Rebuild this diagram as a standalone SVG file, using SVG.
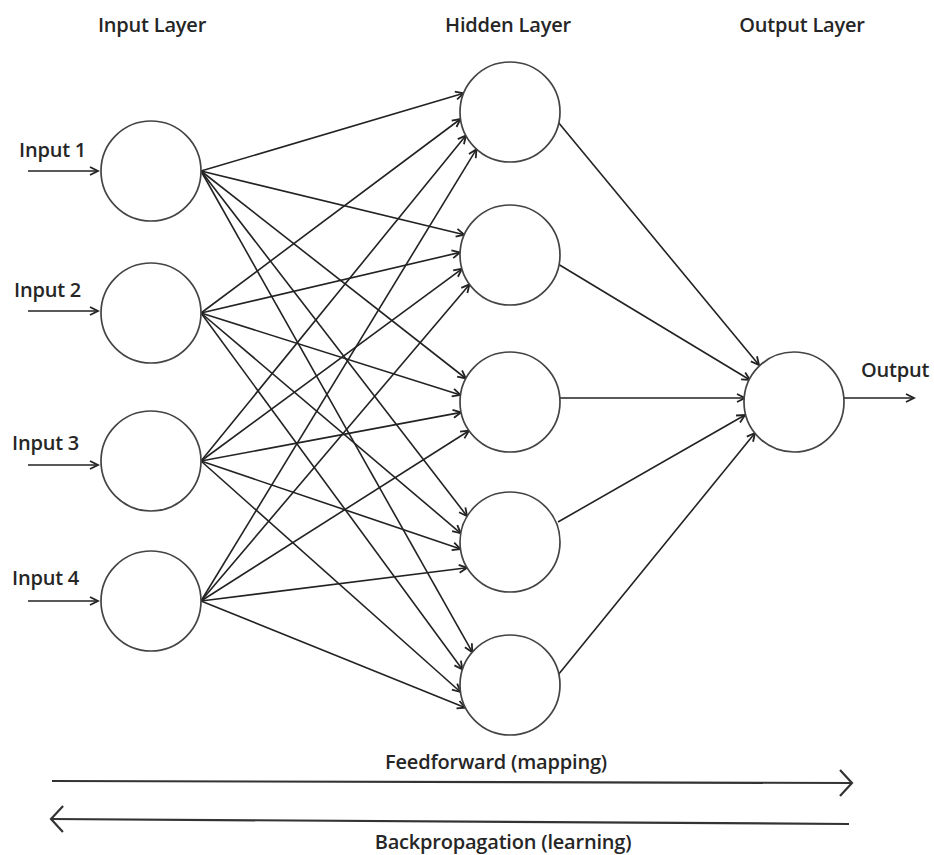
<svg xmlns="http://www.w3.org/2000/svg" width="934" height="855" viewBox="0 0 934 855">
<defs>
<style>
.node{fill:#fff;stroke:#444;stroke-width:1.7}
.edge{stroke:#222;stroke-width:1.6;fill:none;marker-end:url(#ah)}
.big{stroke:#333;stroke-width:2.2;fill:none}
text{font-family:"Open Sans","Noto Sans",sans-serif;font-size:20px;font-weight:600;letter-spacing:-0.2px;fill:#262626}
.mid{text-anchor:middle}
</style>
<marker id="ah" markerUnits="userSpaceOnUse" markerWidth="12" markerHeight="12" viewBox="-10 -6 12 12" refX="0" refY="0" orient="auto">
<path d="M-8,-4 L0,0 L-8,4" fill="none" stroke="#222" stroke-width="1.8"/>
</marker>
<marker id="bh" markerUnits="userSpaceOnUse" markerWidth="20" markerHeight="32" viewBox="-16 -16 20 32" refX="0" refY="0" orient="auto">
<path d="M-12,-13 L0,0 L-12,13" fill="none" stroke="#333" stroke-width="2.2"/>
</marker>
</defs>
<rect width="934" height="855" fill="#fff"/>

<g id="headers">
<text class="mid" x="152" y="32">Input Layer</text>
<text class="mid" x="508" y="32">Hidden Layer</text>
<text class="mid" x="802" y="32">Output Layer</text>
</g>

<g id="connectors">
<!-- input arrows -->
<line class="edge" x1="28" y1="171" x2="98" y2="171"/>
<line class="edge" x1="28" y1="311" x2="98" y2="311"/>
<line class="edge" x1="28" y1="465" x2="98" y2="465"/>
<line class="edge" x1="28" y1="601" x2="98" y2="601"/>
<!-- input 1 -->
<line class="edge" x1="201" y1="171" x2="463.6" y2="93.3"/>
<line class="edge" x1="201" y1="171" x2="464.3" y2="234.7"/>
<line class="edge" x1="201" y1="171" x2="465.9" y2="378.5"/>
<line class="edge" x1="201" y1="171" x2="467.1" y2="516.2"/>
<line class="edge" x1="201" y1="171" x2="472.3" y2="652.2"/>
<!-- input 2 -->
<line class="edge" x1="201" y1="313" x2="460.5" y2="119"/>
<line class="edge" x1="201" y1="313" x2="460.1" y2="252.4"/>
<line class="edge" x1="201" y1="313" x2="460.5" y2="395"/>
<line class="edge" x1="201" y1="313" x2="460.8" y2="533.3"/>
<line class="edge" x1="201" y1="313" x2="462.4" y2="669.5"/>
<!-- input 3 -->
<line class="edge" x1="201" y1="461" x2="465.9" y2="135.5"/>
<line class="edge" x1="201" y1="461" x2="462" y2="268.8"/>
<line class="edge" x1="201" y1="461" x2="461.1" y2="412.4"/>
<line class="edge" x1="201" y1="461" x2="460.5" y2="549"/>
<line class="edge" x1="201" y1="461" x2="460.5" y2="692"/>
<!-- input 4 -->
<line class="edge" x1="201" y1="601" x2="476.5" y2="149.2"/>
<line class="edge" x1="201" y1="601" x2="469.5" y2="284.4"/>
<line class="edge" x1="201" y1="601" x2="469" y2="430.7"/>
<line class="edge" x1="201" y1="601" x2="467.1" y2="567.8"/>
<line class="edge" x1="201" y1="601" x2="465.4" y2="707.7"/>
<!-- hidden to output -->
<line class="edge" x1="558" y1="122" x2="759" y2="365"/>
<line class="edge" x1="558" y1="264" x2="750" y2="380"/>
<line class="edge" x1="560" y1="398" x2="745" y2="398"/>
<line class="edge" x1="558" y1="522" x2="745" y2="415"/>
<line class="edge" x1="558" y1="675" x2="755" y2="433"/>
<!-- output arrow -->
<line class="edge" x1="844" y1="398" x2="914" y2="398"/>
<!-- bottom arrows -->
<line class="big" x1="52" y1="781" x2="852" y2="783" marker-end="url(#bh)"/>
<line class="big" x1="849" y1="824" x2="51" y2="819" marker-end="url(#bh)"/>
</g>

<g id="input1"><circle class="node" cx="151" cy="171" r="50"/><text x="19" y="157">Input 1</text></g>
<g id="input2"><circle class="node" cx="151" cy="313" r="50"/><text x="14" y="297">Input 2</text></g>
<g id="input3"><circle class="node" cx="151" cy="461" r="50"/><text x="12" y="450">Input 3</text></g>
<g id="input4"><circle class="node" cx="151" cy="601" r="50"/><text x="12" y="585">Input 4</text></g>

<g id="hidden1"><circle class="node" cx="510" cy="112" r="50"/></g>
<g id="hidden2"><circle class="node" cx="510" cy="255" r="50"/></g>
<g id="hidden3"><circle class="node" cx="510" cy="402" r="50"/></g>
<g id="hidden4"><circle class="node" cx="510" cy="542" r="50"/></g>
<g id="hidden5"><circle class="node" cx="510" cy="685" r="50"/></g>

<g id="output"><circle class="node" cx="794" cy="402" r="50"/><text x="861" y="377">Output</text></g>

<g id="directions">
<text class="mid" x="496" y="769">Feedforward (mapping)</text>
<text class="mid" x="503" y="849">Backpropagation (learning)</text>
</g>
</svg>
